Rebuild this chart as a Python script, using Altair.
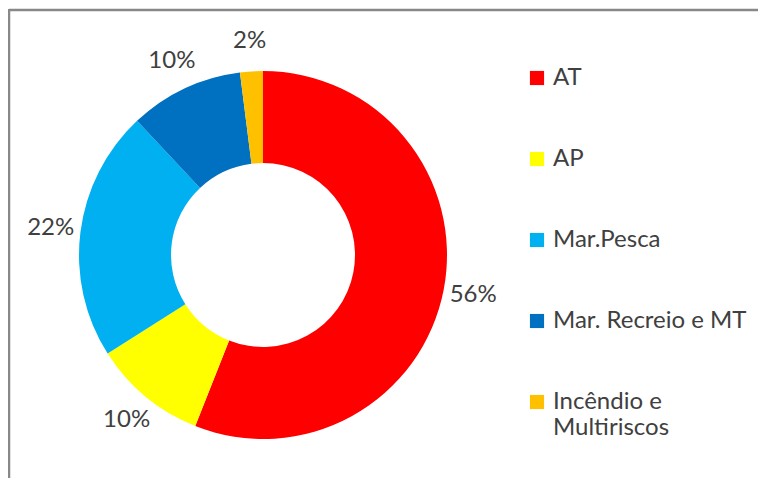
import altair as alt
import pandas as pd

categories = ["AT", "AP", "Mar.Pesca", "Mar. Recreio e MT", "Incêndio e Multiriscos"]
shares = [56, 10, 22, 10, 2]
colors = ["#FF0000", "#FFFF00", "#00B0F0", "#0070C0", "#FFC000"]

df = pd.DataFrame({
    "categoria": categories,
    "valor": shares,
    "ordem": list(range(len(categories))),
})

W, H = 750, 470
CX, CY = 255, 247
FONT = "Lato"
TXT = "#404040"

frame_df = pd.DataFrame({"k": [0]})
frame_top = alt.Chart(frame_df).mark_rule(color="#888888", strokeWidth=2.5).encode(
    x=alt.value(1), x2=alt.value(W), y=alt.value(2), y2=alt.value(2)
)
frame_left = alt.Chart(frame_df).mark_rule(color="#888888", strokeWidth=2.5).encode(
    x=alt.value(1), x2=alt.value(1), y=alt.value(1), y2=alt.value(H)
)

base = alt.Chart(df).encode(
    theta=alt.Theta("valor:Q", stack=True),
    order=alt.Order("ordem:Q"),
)

arcs = base.mark_arc(outerRadius=184, innerRadius=92, x=CX, y=CY).encode(
    color=alt.Color(
        "categoria:N",
        scale=alt.Scale(domain=categories, range=colors),
        legend=alt.Legend(
            title=None,
            orient="none",
            legendX=517,
            legendY=58,
            symbolType="square",
            symbolSize=200,
            symbolStrokeWidth=0,
            labelFont=FONT,
            labelFontSize=24,
            labelColor=TXT,
            labelLimit=400,
            labelOffset=4,
            rowPadding=57,
            labelExpr="datum.label == 'Incêndio e Multiriscos' ? ['Incêndio e', 'Multiriscos'] : datum.label",
        ),
    )
)

texts = base.transform_calculate(rotulo="datum.valor + '%'").mark_text(
    radius=214, x=CX, y=CY, font=FONT, fontSize=24, color=TXT
).encode(text="rotulo:N")

chart = alt.layer(frame_top, frame_left, arcs, texts).properties(
    width=W, height=H, autosize=alt.AutoSizeParams(type="none"), padding=0
).configure_view(strokeWidth=0)

chart.save("out.html", embed_options={"renderer": "svg", "actions": False})
